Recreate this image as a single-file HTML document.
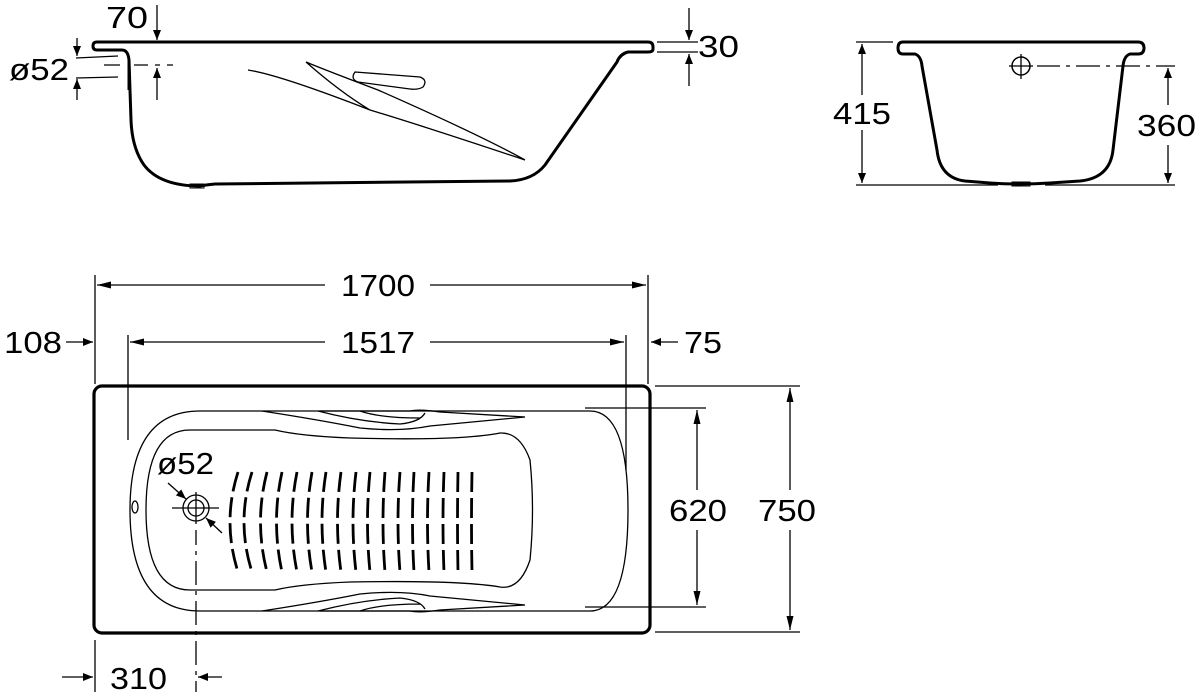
<!DOCTYPE html>
<html><head><meta charset="utf-8"><style>html,body{margin:0;padding:0;background:#fff}svg{display:block}text{font-family:"Liberation Sans",sans-serif;font-size:31px;fill:#000}</style></head>
<body>
<svg width="1200" height="698" viewBox="0 0 1200 698" xmlns="http://www.w3.org/2000/svg">
<defs>
<marker id="a" viewBox="0 0 10 10" refX="10" refY="5" markerWidth="10" markerHeight="10" markerUnits="userSpaceOnUse" orient="auto-start-reverse"><path d="M0,1 L10,5 L0,9 Z" fill="#000"/></marker>
<marker id="b" viewBox="0 0 14 10" refX="14" refY="5" markerWidth="14" markerHeight="10" markerUnits="userSpaceOnUse" orient="auto-start-reverse"><path d="M0,1.5 L14,5 L0,8.5 Z" fill="#000"/></marker>
</defs>
<g fill="none" stroke="#000" stroke-width="1.3">
<!-- SIDE VIEW -->
<path d="M97,42 L648,42 Q653,42 653,47 L653,49 Q653,52 648,52 L628,52 Q620,54 617,62 L545,165 Q533,180 510,181 L215,184 Q205,185 200,186 Q160,186 144,165 Q132,148 131,120 L129,60 Q128,50 122,50 L97,50 Q93,50 93,46 Q93,42 97,42 Z" stroke-width="3"/>
<rect x="190" y="184" width="14" height="4" stroke-width="1"/>
<path d="M248,70 Q280,75 370,110 Q420,125 525,160 Q480,135 378,90 Q320,68 306,62 Q340,92 370,110"/>
<path d="M355,72 L420,77 Q428,80 423,87 Q418,90 410,89 L358,82 Q350,79 355,72 Z"/>
<line x1="128" y1="60" x2="128" y2="90" stroke-width="1"/>
<line x1="76" y1="58" x2="118" y2="56"/><line x1="76" y1="78" x2="118" y2="77"/>
<path d="M104,65 L120,65 M134,65 L148,65 M155,65 L160,65 M167,65 L173,65"/>
<line x1="77" y1="38" x2="77" y2="56" marker-end="url(#a)"/><line x1="77" y1="100" x2="77" y2="79" marker-end="url(#a)"/>
<line x1="157" y1="5" x2="157" y2="40" marker-end="url(#a)"/><line x1="157" y1="100" x2="157" y2="68" marker-end="url(#a)"/>
<line x1="657" y1="42" x2="698" y2="42"/><line x1="657" y1="52" x2="698" y2="52"/>
<line x1="689" y1="8" x2="689" y2="40" marker-end="url(#a)"/><line x1="689" y1="86" x2="689" y2="54" marker-end="url(#a)"/>
<!-- END VIEW -->
<path d="M903,42 L1138,42 Q1144,42 1144,48 Q1144,54 1138,54 L1130,54 Q1124,56 1123,66 L1113,150 Q1110,178 1080,181 L1050,183 Q1020,185 990,183 L965,181 Q940,178 937,150 L922,66 Q921,56 915,54 L903,54 Q898,54 898,48 Q898,42 903,42 Z" stroke-width="3"/>
<rect x="1012" y="182" width="18" height="4" stroke-width="1"/>
<circle cx="1021" cy="66" r="9" stroke-width="1.5"/>
<path d="M1009,66 L1033,66 M1021,54 L1021,79" stroke-width="1.3"/>
<path d="M1037,66 L1060,66 M1066,66 L1070,66 M1076,66 L1100,66 M1106,66 L1110,66 M1116,66 L1140,66 M1146,66 L1150,66 M1156,66 L1175,66"/>
<line x1="856" y1="42" x2="893" y2="42"/>
<line x1="856" y1="185" x2="998" y2="185"/><line x1="1045" y1="185" x2="1175" y2="185"/>
<line x1="862" y1="95" x2="862" y2="44" marker-end="url(#a)"/><line x1="862" y1="130" x2="862" y2="183" marker-end="url(#a)"/>
<line x1="1168" y1="105" x2="1168" y2="68" marker-end="url(#a)"/><line x1="1168" y1="145" x2="1168" y2="183" marker-end="url(#a)"/>
<!-- PLAN VIEW -->
<rect x="94" y="386" width="556" height="247" rx="8" stroke-width="3.2"/>
<path d="M200,411 L590,411 Q628,411 628,510 Q628,611 590,611 L200,611 Q130,611 130,510 Q130,411 200,411 Z"/>
<path d="M190,430 L275,430 Q300,436 350,438 Q460,441 500,433 Q520,432 530,460 Q535,510 530,560 Q520,590 500,587 Q460,580 350,582 Q300,584 275,590 L190,590 Q146,590 146,510 Q146,430 190,430 Z"/>
<path d="M262,411 Q320,420 360,428 Q400,432 430,426 L525,417 L440,412 Q420,409 410,411 L320,411"/>
<path d="M318,411 Q360,422 400,424 Q420,422 425,413 M360,411 Q380,418 420,418"/>
<path d="M262,611 Q320,602 360,594 Q400,590 430,596 L525,605 L440,610 Q420,613 410,611 L320,611"/>
<path d="M318,611 Q360,600 400,598 Q420,600 425,609 M360,611 Q380,604 420,604"/>
<ellipse cx="135" cy="507" rx="3" ry="6"/>
<circle cx="196" cy="508" r="13"/><circle cx="196" cy="508" r="8"/>
<path d="M172,508 L219,508 M196,492 L196,524"/>
<line x1="168" y1="483" x2="186" y2="499" marker-end="url(#a)"/><line x1="222" y1="533" x2="206" y2="518" marker-end="url(#a)"/>
<path d="M196,530 L196,545 M196,551 L196,555 M196,561 L196,585 M196,591 L196,595 M196,601 L196,625 M196,631 L196,635 M196,641 L196,665 M196,671 L196,675 M196,681 L196,692"/>
<g stroke-width="2.8" stroke-dasharray="20 6">
<path d="M238,472 Q222,522 238,572"/><path d="M252,472 Q236,522 252,572"/><path d="M267,472 Q254,522 267,572"/><path d="M282,472 Q271,522 282,572"/><path d="M297,472 Q287,522 297,572"/><path d="M312,472 Q303,522 312,572"/><path d="M326,472 Q318,522 326,572"/><path d="M341,472 Q334,522 341,572"/><path d="M356,472 Q350,522 356,572"/><path d="M370,472 Q365,522 370,572"/><path d="M385,472 Q381,522 385,572"/><path d="M400,472 Q396,522 400,572"/><path d="M414,472 Q411,522 414,572"/><path d="M429,472 Q426,522 429,572"/><path d="M444,472 Q442,522 444,572"/><path d="M458,472 Q457,522 458,572"/><path d="M472,472 Q471,522 472,572"/>
</g>
<!-- dims -->
<line x1="95" y1="275" x2="95" y2="384"/><line x1="648" y1="275" x2="648" y2="384"/>
<line x1="128" y1="335" x2="128" y2="440"/><line x1="626" y1="335" x2="626" y2="470"/>
<line x1="325" y1="285" x2="97" y2="285" marker-end="url(#b)"/><line x1="430" y1="285" x2="646" y2="285" marker-end="url(#b)"/>
<line x1="325" y1="342" x2="130" y2="342" marker-end="url(#b)"/><line x1="430" y1="342" x2="624" y2="342" marker-end="url(#b)"/>
<line x1="66" y1="342" x2="93" y2="342" marker-end="url(#a)"/><line x1="678" y1="342" x2="651" y2="342" marker-end="url(#a)"/>
<line x1="585" y1="408" x2="706" y2="408"/><line x1="585" y1="607" x2="706" y2="607"/>
<line x1="655" y1="386" x2="800" y2="386"/><line x1="655" y1="632" x2="800" y2="632"/>
<line x1="697" y1="490" x2="697" y2="410" marker-end="url(#b)"/><line x1="697" y1="530" x2="697" y2="605" marker-end="url(#b)"/>
<line x1="790" y1="490" x2="790" y2="388" marker-end="url(#b)"/><line x1="790" y1="530" x2="790" y2="630" marker-end="url(#b)"/>
<line x1="95" y1="640" x2="95" y2="692"/>
<line x1="62" y1="677" x2="93" y2="677" marker-end="url(#a)"/><line x1="222" y1="677" x2="198" y2="677" marker-end="url(#a)"/>
</g>
<text x="106" y="28" textLength="42" lengthAdjust="spacingAndGlyphs">70</text>
<text x="9" y="80" textLength="60" lengthAdjust="spacingAndGlyphs">ø52</text>
<text x="698" y="57" textLength="41" lengthAdjust="spacingAndGlyphs">30</text>
<text x="833" y="124" textLength="58" lengthAdjust="spacingAndGlyphs">415</text>
<text x="1137" y="136" textLength="59" lengthAdjust="spacingAndGlyphs">360</text>
<text x="341" y="296" textLength="74" lengthAdjust="spacingAndGlyphs">1700</text>
<text x="341" y="353" textLength="74" lengthAdjust="spacingAndGlyphs">1517</text>
<text x="4" y="353" textLength="58" lengthAdjust="spacingAndGlyphs">108</text>
<text x="684" y="353" textLength="38" lengthAdjust="spacingAndGlyphs">75</text>
<text x="157" y="474" textLength="57" lengthAdjust="spacingAndGlyphs">ø52</text>
<text x="669" y="521" textLength="58" lengthAdjust="spacingAndGlyphs">620</text>
<text x="758" y="521" textLength="58" lengthAdjust="spacingAndGlyphs">750</text>
<text x="110" y="689" textLength="57" lengthAdjust="spacingAndGlyphs">310</text>
</svg>
</body></html>
